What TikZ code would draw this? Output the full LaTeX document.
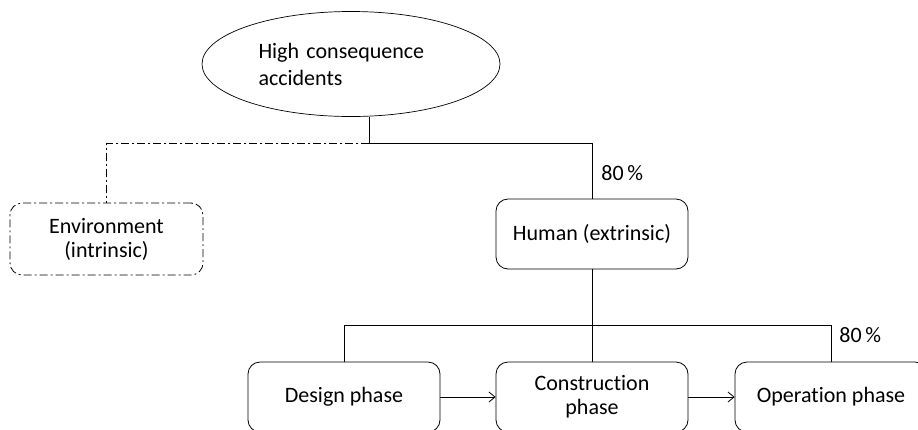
\documentclass[tikz,border=0pt]{standalone}
\usepackage{fontspec}
\setmainfont{Carlito}[RawFeature=-liga]
\usetikzlibrary{shapes.geometric,arrows.meta}
\begin{document}
\begin{tikzpicture}[x=1pt,y=-1pt,
    font=\fontsize{22}{24}\selectfont,
    line width=0.8pt,
    phasebox/.style={draw,rounded corners=12pt,minimum width=192pt,minimum height=70pt,align=center,inner sep=0pt},
    dashdotline/.style={dash pattern=on 8pt off 3pt on 2pt off 3pt},
    flow/.style={-{Straight Barb[length=6pt,width=10pt]}},
    pct/.style={inner sep=0pt,anchor=west}]
  \useasboundingbox (0,0) rectangle (918,429);
  \clip (0,0) rectangle (918,429);

  % top event
  \node[ellipse,draw,line width=0.7pt,minimum width=298pt,minimum height=105pt,inner sep=0pt,
        text width=185pt,align=left,font=\fontsize{22}{27}\selectfont]
        (acc) at (351,64) {High consequence\\accidents};

  % causes
  \node[phasebox,dashdotline,minimum width=193pt,minimum height=72pt] (env) at (106.5,239) {Environment\\(intrinsic)};
  \node[phasebox] (hum) at (592,234) {Human (extrinsic)};

  % project phases
  \node[phasebox] (des) at (344,397) {Design phase};
  \node[phasebox] (con) at (592,397) {Construction\\phase};
  \node[phasebox] (op)  at (831,397) {Operation phase};

  % junctions
  \coordinate (j1) at (369,143);
  \coordinate (j2) at (592,325);

  \draw (acc.south -| j1) -- (j1);
  \draw[dashdotline] (j1) -- (j1 -| env) -- (env.north);
  \draw (j1) -- (j1 -| hum) -- (hum.north);

  \draw (hum.south) -- (j2);
  \draw (des.north) -- (j2 -| des) -- (j2 -| op) -- (op.north);
  \draw (j2) -- (con.north);

  \draw[flow] (des.east) -- (con.west);
  \draw[flow] (con.east) -- (op.west);

  % shares
  \node[pct] (p1) at (601,173) {80\,\%};
  \node[pct] (p2) at (839,335) {80\,\%};
\end{tikzpicture}
\end{document}
